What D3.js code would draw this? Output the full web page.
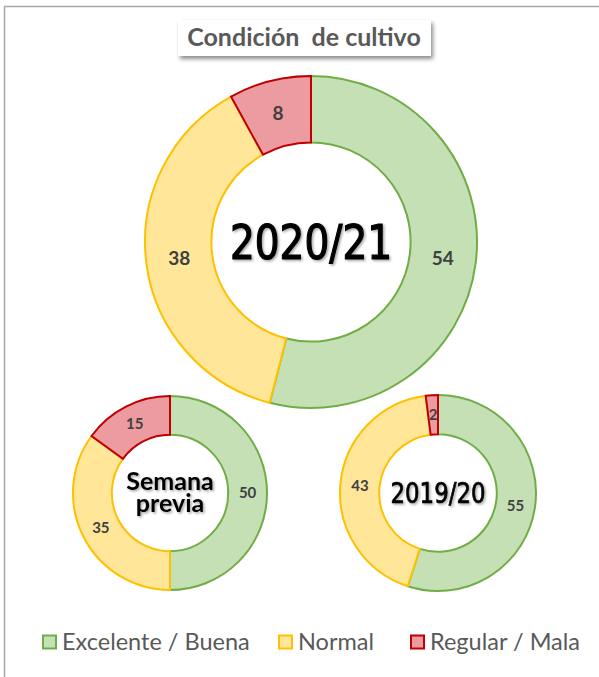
<!doctype html>
<html lang="es">
<head>
    <meta charset="UTF-8">
    <title>Condición de cultivo</title>
    <script src="https://d3js.org/d3.v7.min.js"></script>
    <style>
        html, body { margin: 0; padding: 0; background: #fff; }
        svg { display: block; }
    </style>
</head>
<body>
<script>
    // datos
    var categories = ['Excelente / Buena', 'Normal', 'Regular / Mala'];
    var seasons = ['2020/21', 'Semana previa', '2019/20'];
    var values2021 = [54, 38, 8];
    var valuesPrevia = [50, 35, 15];
    var values2019 = [55, 43, 2];

    var fills = ['#C5E0B4', '#FFE699', '#EC9BA0'];
    var strokes = ['#70AD47', '#FFC000', '#C00000'];

    var width = 599;
    var height = 677;

    var svg = d3.select('body').append('svg')
        .attr('width', width)
        .attr('height', height);

    var defs = svg.append('defs');
    var sh = defs.append('filter').attr('id', 'boxShadow')
        .attr('x', '-10%').attr('y', '-30%').attr('width', '130%').attr('height', '180%');
    sh.append('feDropShadow').attr('dx', 2).attr('dy', 3).attr('stdDeviation', 2)
        .attr('flood-color', '#000').attr('flood-opacity', 0.45);
    var ts = defs.append('filter').attr('id', 'textShadow')
        .attr('x', '-10%').attr('y', '-20%').attr('width', '130%').attr('height', '150%');
    ts.append('feDropShadow').attr('dx', 1.5).attr('dy', 1.5).attr('stdDeviation', 1)
        .attr('flood-color', '#000').attr('flood-opacity', 0.35);

    // marco
    svg.append('rect')
        .attr('x', 4.5).attr('y', 6.5)
        .attr('width', 700).attr('height', 800)
        .attr('fill', 'none')
        .attr('stroke', '#A6A6A6')
        .attr('stroke-width', 1.5);

    // titulo
    svg.append('rect')
        .attr('x', 178).attr('y', 20)
        .attr('width', 253).attr('height', 36)
        .attr('fill', '#fff')
        .attr('filter', 'url(#boxShadow)');
    svg.append('text')
        .attr('x', 304).attr('y', 46)
        .attr('text-anchor', 'middle')
        .attr('font-family', 'Lato, "Open Sans", sans-serif')
        .attr('font-weight', 'bold')
        .attr('font-size', 25)
        .attr('fill', '#595959')
        .attr('xml:space', 'preserve')
        .text('Condición  de cultivo');

    var pie = d3.pie().sort(null).value(function(d){ return d; });

    var donuts = [
        {values: values2021, cx: 311, cy: 242, r: 166, label: 19, title: 48, len: 162, lh: 0, lines: [seasons[0]]},
        {values: valuesPrevia, cx: 170, cy: 493, r: 97, label: 15, title: 25, len: 0, lh: 22, lines: ['Semana', 'previa']},
        {values: values2019, cx: 438, cy: 493, r: 98, label: 15, title: 28, len: 95, lh: 0, lines: [seasons[2]]}
    ];

    donuts.forEach(function(dn){
        var arc = d3.arc().innerRadius(dn.r * 0.6).outerRadius(dn.r);
        var g = svg.append('g').attr('transform', 'translate(' + dn.cx + ',' + dn.cy + ')');
        var arcs = pie(dn.values);

        g.selectAll('path')
            .data(arcs)
            .enter().append('path')
            .attr('d', arc)
            .attr('fill', function(d, i){ return fills[i]; })
            .attr('stroke', function(d, i){ return strokes[i]; })
            .attr('stroke-width', 2)
            .attr('stroke-linejoin', 'miter');

        g.selectAll('text.lbl')
            .data(arcs)
            .enter().append('text')
            .attr('class', 'lbl')
            .attr('transform', function(d){ return 'translate(' + arc.centroid(d) + ')'; })
            .attr('dy', '0.35em')
            .attr('text-anchor', 'middle')
            .attr('font-family', 'Lato, "Open Sans", sans-serif')
            .attr('font-weight', 'bold')
            .attr('font-size', dn.label)
            .attr('fill', '#404040')
            .text(function(d){ return d.data; });

        var t = g.append('text')
            .attr('text-anchor', 'middle')
            .attr('fill', '#000')
            .attr('filter', 'url(#textShadow)');
        if (dn.lines.length > 1) {
            t.attr('font-family', 'Lato, "Open Sans", sans-serif')
                .attr('font-weight', 'bold')
                .attr('font-size', dn.title);
            dn.lines.forEach(function(line, i){
                t.append('tspan')
                    .attr('x', 0)
                    .attr('y', (i - 0.5) * dn.lh)
                    .attr('dy', '0.33em')
                    .text(line);
            });
        } else {
            t.attr('font-family', '"DejaVu Sans Condensed", "DejaVu Sans", sans-serif')
                .attr('font-size', dn.title)
                .attr('stroke', '#000')
                .attr('stroke-width', dn.title / 40)
                .attr('dy', '0.36em')
                .attr('textLength', dn.len)
                .attr('lengthAdjust', 'spacingAndGlyphs')
                .text(dn.lines[0]);
        }
    });

    // leyenda
    var legendX = [43, 279, 411];
    var legend = svg.append('g');
    categories.forEach(function(c, i){
        var lg = legend.append('g').attr('transform', 'translate(' + legendX[i] + ',642)');
        lg.append('rect')
            .attr('x', 0).attr('y', -6.5)
            .attr('width', 13).attr('height', 13)
            .attr('fill', fills[i])
            .attr('stroke', strokes[i])
            .attr('stroke-width', 2);
        lg.append('text')
            .attr('x', 19).attr('y', 0)
            .attr('dy', '0.35em')
            .attr('font-family', 'Lato, "Open Sans", sans-serif')
            .attr('font-size', 23.5)
            .attr('fill', '#595959')
            .text(c);
    });
</script>
</body>
</html>
